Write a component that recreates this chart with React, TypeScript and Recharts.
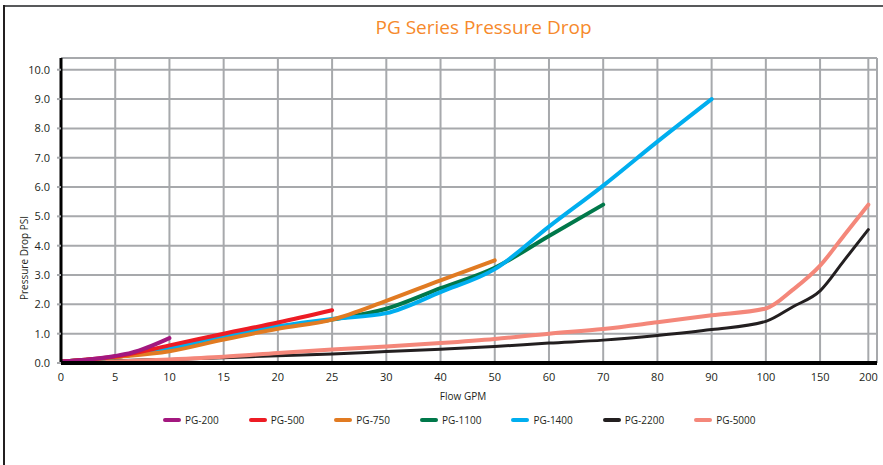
import { LineChart, Line, XAxis, YAxis, CartesianGrid } from "recharts";

// axis: the flow scale is uneven (5 steps up to 30, then 10s, then 50s)
const X_TICK_LABELS = [0, 5, 10, 15, 20, 25, 30, 40, 50, 60, 70, 80, 90, 100, 150, 200];
const X_TICK_POS = [0, 1, 2, 3, 4, 5, 6, 7, 8, 9, 10, 11, 12, 13, 14, 14.89];
const Y_TICKS = [0, 1, 2, 3, 4, 5, 6, 7, 8, 9, 10];

// series, flow in GPM / pressure drop in PSI
const PG200_FLOW = [0, 5, 6.5, 10];
const PG200_PSI = [0.05, 0.24, 0.35, 0.85];

const PG500_FLOW = [0, 5, 10, 15, 20, 25];
const PG500_PSI = [0.05, 0.22, 0.6, 1.0, 1.38, 1.8];

const PG750_FLOW = [0, 5, 10, 15, 20, 25, 30, 40, 50];
const PG750_PSI = [0.05, 0.2, 0.4, 0.8, 1.17, 1.48, 2.12, 2.82, 3.5];

const PG1100_FLOW = [0, 5, 10, 15, 20, 25, 30, 40, 50, 60, 70];
const PG1100_PSI = [0.05, 0.2, 0.5, 0.9, 1.22, 1.48, 1.85, 2.55, 3.25, 4.33, 5.4];

const PG1400_FLOW = [0, 5, 10, 15, 20, 25, 30, 40, 50, 60, 70, 80, 90];
const PG1400_PSI = [0.05, 0.2, 0.5, 0.92, 1.25, 1.5, 1.7, 2.42, 3.2, 4.65, 6.05, 7.55, 9.0];

const PG2200_FLOW = [0, 5, 10, 15, 20, 25, 30, 40, 50, 60, 70, 80, 90, 100, 125, 150, 175, 200];
const PG2200_PSI = [0.02, 0.08, 0.12, 0.18, 0.25, 0.31, 0.39, 0.47, 0.56, 0.68, 0.78, 0.94, 1.14, 1.42, 1.92, 2.46, 3.5, 4.55];

const PG5000_FLOW = [0, 5, 10, 15, 20, 25, 30, 40, 50, 60, 70, 80, 90, 100, 125, 150, 175, 200];
const PG5000_PSI = [0, 0.05, 0.12, 0.21, 0.34, 0.46, 0.56, 0.68, 0.82, 1.0, 1.16, 1.39, 1.63, 1.86, 2.5, 3.32, 4.36, 5.4];

const FONT = "'Liberation Sans Narrow', 'Open Sans', sans-serif";
const GRID = "#a7a9ac";

// map a flow value onto the uneven axis
function flowToPos(flow: number) {
  for (let i = 1; i < X_TICK_LABELS.length; i++) {
    if (flow <= X_TICK_LABELS[i]) {
      const a = X_TICK_LABELS[i - 1];
      const b = X_TICK_LABELS[i];
      const t = (flow - a) / (b - a);
      return X_TICK_POS[i - 1] + t * (X_TICK_POS[i] - X_TICK_POS[i - 1]);
    }
  }
  return X_TICK_POS[X_TICK_POS.length - 1];
}

const toPoints = (flow: number[], psi: number[]) =>
  flow.map((f, i) => ({ x: flowToPos(f), y: psi[i] }));

const series = [
  { name: "PG-200", color: "#a3187f", width: 4, data: toPoints(PG200_FLOW, PG200_PSI) },
  { name: "PG-500", color: "#ed1c24", width: 4, data: toPoints(PG500_FLOW, PG500_PSI) },
  { name: "PG-750", color: "#e17b22", width: 4, data: toPoints(PG750_FLOW, PG750_PSI) },
  { name: "PG-1100", color: "#00784a", width: 4, data: toPoints(PG1100_FLOW, PG1100_PSI) },
  { name: "PG-1400", color: "#00aeef", width: 4, data: toPoints(PG1400_FLOW, PG1400_PSI) },
  { name: "PG-2200", color: "#231f20", width: 3, data: toPoints(PG2200_FLOW, PG2200_PSI) },
  { name: "PG-5000", color: "#f4877a", width: 4, data: toPoints(PG5000_FLOW, PG5000_PSI) },
];

// bottom to top, as they overlap in the original
const drawOrder = ["PG-2200", "PG-5000", "PG-1100", "PG-1400", "PG-750", "PG-500", "PG-200"];

function LegendRow() {
  return (
    <div
      style={{
        position: "absolute",
        top: 413,
        left: 163,
        display: "flex",
        fontFamily: FONT,
        fontSize: 10,
        color: "#231f20",
      }}
    >
      {series.map((s) => (
        <div key={s.name} style={{ display: "flex", alignItems: "center", marginRight: 30 }}>
          <span style={{ width: 18, height: 4, borderRadius: 2, background: s.color, marginRight: 4 }} />
          <span>{s.name}</span>
        </div>
      ))}
    </div>
  );
}

export default function App() {
  return (
    <div style={{ position: "absolute", left: 0, top: 0, width: 883, height: 465, background: "#fff" }}>
      {/* frame */}
      <div style={{ position: "absolute", left: 3, top: 5, width: 880, height: 2, background: "#58595b" }} />
      <div style={{ position: "absolute", left: 3, top: 5, width: 2, height: 460, background: "#231f20" }} />

      <div
        style={{
          position: "absolute",
          top: 14,
          width: 883,
          left: 42,
          textAlign: "center",
          fontFamily: "'Open Sans', sans-serif",
          fontSize: 19,
          color: "#f6892b",
        }}
      >
        PG Series Pressure Drop
      </div>

      <div
        style={{
          position: "absolute",
          left: 24,
          top: 258,
          transform: "translate(-50%, -50%) rotate(-90deg)",
          fontFamily: FONT,
          fontSize: 10,
          color: "#231f20",
          whiteSpace: "nowrap",
        }}
      >
        Pressure Drop PSI
      </div>

      <div
        style={{
          position: "absolute",
          left: 463,
          top: 389,
          transform: "translateX(-50%)",
          fontFamily: FONT,
          fontSize: 10,
          color: "#231f20",
        }}
      >
        Flow GPM
      </div>

      <LineChart
        width={883}
        height={465}
        margin={{ top: 58, right: 6, left: 16, bottom: 72 }}
        style={{ position: "absolute", left: 0, top: 0 }}
      >
        <CartesianGrid stroke={GRID} strokeWidth={2} />
        <XAxis
          type="number"
          dataKey="x"
          domain={[0, 15.05]}
          ticks={X_TICK_POS}
          allowDataOverflow
          height={30}
          tickFormatter={(v: number) => String(X_TICK_LABELS[X_TICK_POS.indexOf(v)] ?? "")}
          tick={{ fontSize: 11, fill: "#231f20", fontFamily: FONT }}
          tickLine={false}
          axisLine={{ stroke: "#000", strokeWidth: 4 }}
          tickMargin={4}
        />
        <YAxis
          type="number"
          dataKey="y"
          domain={[0, 10.4]}
          ticks={Y_TICKS}
          allowDataOverflow
          width={45}
          tickFormatter={(v: number) => v.toFixed(1)}
          tick={{ fontSize: 11, fill: "#231f20", fontFamily: FONT }}
          tickLine={{ stroke: GRID, strokeWidth: 2 }}
          tickSize={4}
          tickMargin={7}
          axisLine={{ stroke: "#000", strokeWidth: 3 }}
        />
        {drawOrder.map((name) => {
          const s = series.find((d) => d.name === name)!;
          return (
            <Line
              key={s.name}
              name={s.name}
              data={s.data}
              dataKey="y"
              type="monotone"
              stroke={s.color}
              strokeWidth={s.width}
              strokeLinecap="round"
              dot={false}
              activeDot={false}
              isAnimationActive={false}
            />
          );
        })}
      </LineChart>
      <LegendRow />
    </div>
  );
}
